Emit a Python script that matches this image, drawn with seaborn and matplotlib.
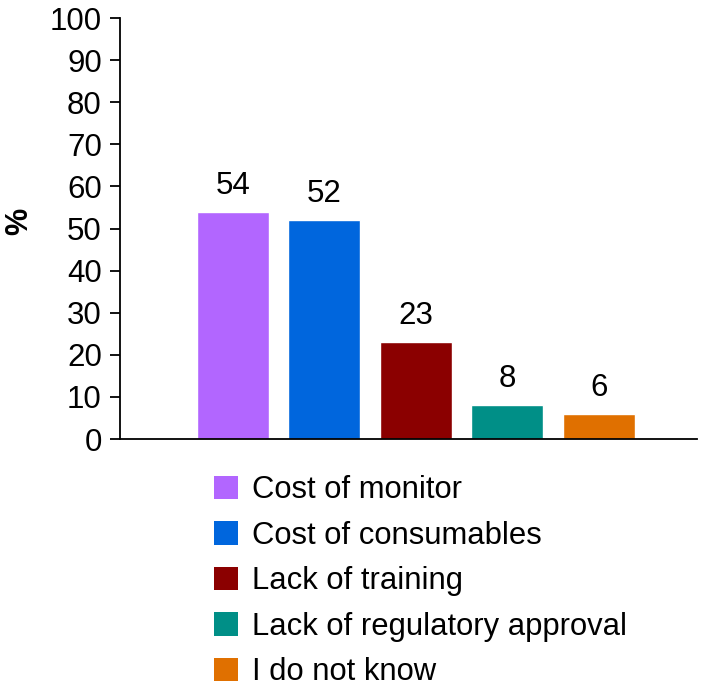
import matplotlib
matplotlib.use("Agg")
import matplotlib.pyplot as plt
import seaborn as sns
import pandas as pd
from matplotlib.patches import Patch

# data
categories = ["Cost of monitor", "Cost of consumables", "Lack of training",
              "Lack of regulatory approval", "I do not know"]
values = [54, 52, 23, 8, 6]
colors = ["#B266FF", "#0066DD", "#8B0000", "#008F87", "#E07000"]
y_ticks = [0, 10, 20, 30, 40, 50, 60, 70, 80, 90, 100]

df = pd.DataFrame({"reason": categories, "pct": values})

sns.set_style("white")
plt.rcParams["font.family"] = ["Liberation Sans", "DejaVu Sans"]
plt.rcParams.update({"text.color": "black", "axes.labelcolor": "black",
                     "xtick.color": "black", "ytick.color": "black"})

fig = plt.figure(figsize=(7.22, 6.93), dpi=100)
ax = fig.add_axes([0.166, 0.3665, 0.799, 0.6075])

sns.barplot(data=df, x="reason", y="pct", hue="reason", palette=colors,
            width=0.79, legend=False, ax=ax, saturation=1)

for i, v in enumerate(values):
    ax.annotate(str(v), (i, v), xytext=(0, 8), textcoords="offset points",
                ha="center", va="bottom", fontsize=22.5)

ax.set_xlim(-1.235, 5.07)
ax.set_ylim(0, 100)
ax.set_yticks(y_ticks)
ax.tick_params(axis="y", labelsize=22.5, length=7, width=1.3, direction="out",
               left=True, pad=6)
ax.set_xticks([])
ax.set_xlabel("")
ax.set_ylabel("%", fontsize=22, fontweight="bold")
ax.yaxis.set_label_coords(-0.148, 0.518)
for s in ["top", "right"]:
    ax.spines[s].set_visible(False)
for s in ["left", "bottom"]:
    ax.spines[s].set_color("black")
    ax.spines[s].set_linewidth(1.3)

handles = [Patch(facecolor=c, edgecolor="none") for c in colors]
fig.legend(handles, categories, loc="upper left", bbox_to_anchor=(0.296, 0.314),
           frameon=False, fontsize=22.3, handlelength=0.8, handleheight=0.8,
           handletextpad=0.45, labelspacing=0.5, borderaxespad=0, borderpad=0)

fig.savefig("out.png", dpi=100)
